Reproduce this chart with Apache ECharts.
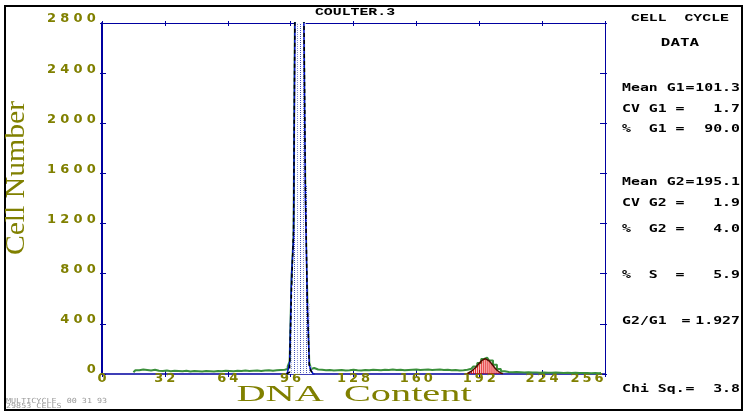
<!DOCTYPE html>
<html><head><meta charset="utf-8">
<script src="https://cdn.jsdelivr.net/npm/echarts@6/dist/echarts.min.js"></script>
<style>html,body{margin:0;padding:0;background:#fff}#c{width:748px;height:414px}</style>
</head><body><div id="c"></div>
<script>
// ---------- data ----------
const chartTitle = 'COULTER.3';
const xName = 'DNA  Content';
const yName = 'Cell Number';
const xMin = 0, xMax = 256, xStep = 32;
const yMin = 0, yMax = 2800, yStep = 400;

// measured histogram (green)
const dataChannels = [16,18,20,22,24,26,28,30,32,34,36,38,40,42,44,46,48,50,52,54,56,58,60,62,64,66,68,70,72,74,76,78,80,82,84,86,88,90,92,94,
  95,96,97,98,99,100,101,102,103,104,105,106,107,108,
  110,112,114,116,118,120,122,124,126,128,130,132,134,136,138,140,142,144,146,148,150,152,154,156,158,160,162,164,166,168,170,172,174,176,178,180,182,184,
  186,188,190,192,194,195,196,198,200,202,204,
  206,208,210,212,214,216,218,220,222,224,226,228,230,232,234,236,238,240,242,244,246,248,250,252,254];
const dataCounts = [14,30,36,32,28,34,26,24,28,22,26,24,22,26,20,24,22,20,24,22,20,24,22,26,24,22,26,24,28,24,26,28,24,28,30,26,30,32,34,40,
  60,100,780,1100,3600,5600,6200,5200,3300,1400,600,90,40,48,
  36,34,30,32,28,30,32,28,30,34,30,28,32,30,34,32,30,34,32,36,32,34,30,32,34,36,32,34,36,32,34,36,32,34,30,32,28,30,
  34,42,60,88,120,134,130,108,74,40,22,
  16,14,16,14,12,14,12,12,10,12,10,10,12,10,8,10,8,10,8,8,8,6,8,6,8];

// G1 component
const g1Channels = [94,95,96,97,98,99,100,101,102,103,104,105,106,107,108];
const g1Data = [0,20,90,800,1080,3600,5600,6200,5200,3300,1400,580,70,25,0];
const g1Fit  = [0,15,70,700,1150,3700,5500,6100,5200,3400,1500,560,60,20,0];

// G2 component
const g2Channels = [186,187,188,189,190,191,192,193,194,195,196,197,198,199,200,201,202,203,204];
const g2Fit = [4,12,22,34,50,68,86,104,116,122,118,106,88,68,48,30,18,8,2];

// side panel
const panelHeading = ['CELL  CYCLE', 'DATA'];
const panelLabels = ['Mean G1', 'CV G1', '%  G1', 'Mean G2', 'CV G2', '%  G2', '%  S', 'G2/G1', 'Chi Sq.'];
const panelValues = ['101.3', '1.7', '90.0', '195.1', '1.9', '4.0', '5.9', '1.927', '3.8'];
const footerLines = ['MULTICYCLE  00 31 93', '29853 CELLS'];

// ---------- layout / style ----------
const axisColor = '#0000a0';
const olive = '#808000';
const panelRowY = [88, 109, 129, 182, 203, 229, 275, 321, 389];
const panelSepX = [690, 680, 680, 690, 680, 680, 680, 686, 690];

const zip = (a, b) => a.map((v, i) => [v, b[i]]);
const tokens = (v, key) => String(v).split('').map(c => '{' + key + '|' + c + '}').join('');
const digitStyle = w => ({ width: w, align: 'center', fontFamily: 'DejaVu Sans', fontWeight: 'bold', fontSize: 13, color: olive, lineHeight: 8 });

function ax(kind, pos, extra) {
  const base = {
    type: 'value', position: pos,
    min: kind === 'x' ? xMin : yMin, max: kind === 'x' ? xMax : yMax,
    interval: kind === 'x' ? xStep : yStep,
    axisLine: { show: false, onZero: false },
    axisTick: { show: false },
    axisLabel: { show: false },
    splitLine: { show: false }
  };
  return Object.assign(base, extra);
}
const tick = (inside, len) => ({ show: true, inside: inside, length: len, lineStyle: { color: axisColor, width: 1 } });
const line = w => ({ show: true, onZero: false, lineStyle: { color: axisColor, width: w } });
const txt = (x, y, text, font, fill, align, extra) => Object.assign({
  type: 'text', x: x, y: y,
  style: { text: text, font: font, fill: fill, align: align, verticalAlign: 'middle', textAlign: align, textVerticalAlign: 'middle' }
}, extra);

const chart = echarts.init(document.getElementById('c'), null, { renderer: 'canvas' });

const panelFont = 'bold 11px "DejaVu Sans Mono"';
const panelGraphics = [
  txt(680, 18, panelHeading[0], 'bold 11px "Liberation Mono"', '#000', 'center', { scaleX: 1.35 }),
  txt(680, 43, panelHeading[1], panelFont, '#000', 'center', { scaleX: 1.45 })
];
panelLabels.forEach((lab, i) => {
  panelGraphics.push(txt(622, panelRowY[i], lab, panelFont, '#000', 'left', { scaleX: 1.35 }));
  panelGraphics.push(txt(panelSepX[i], panelRowY[i], '=', panelFont, '#000', 'center', { scaleX: 1.35 }));
  panelGraphics.push(txt(740, panelRowY[i], panelValues[i], panelFont, '#000', 'right', { scaleX: 1.35 }));
});

const option = {
  animation: false,
  backgroundColor: '#fff',
  grid: { left: 102, right: 143, top: 23, bottom: 40, containLabel: false },
  xAxis: [
    ax('x', 'bottom', {
      axisLine: line(1.5), axisTick: tick(true, 4),
      axisLabel: {
        show: true, margin: 1, showMinLabel: true, showMaxLabel: true, alignMaxLabel: 'right',
        formatter: v => tokens(v, 'd'), rich: { d: digitStyle(12) }
      }
    }),
    ax('x', 'bottom', { axisTick: tick(false, 3) }),
    ax('x', 'top', { axisLine: line(1), axisTick: tick(true, 3) }),
    ax('x', 'top', { axisTick: tick(false, 2) })
  ],
  yAxis: [
    ax('y', 'left', {
      axisLine: line(2), axisTick: tick(true, 4),
      axisLabel: {
        show: true, margin: 4, verticalAlign: 'bottom', showMinLabel: true, showMaxLabel: true,
        formatter: v => tokens(v, 'd'), rich: { d: digitStyle(13.3) }
      }
    }),
    ax('y', 'left', { axisTick: tick(false, 2) }),
    ax('y', 'right', { axisLine: line(1), axisTick: tick(true, 5) }),
    ax('y', 'right', { axisTick: tick(false, 2) })
  ],
  series: [
    {
      name: 'data', type: 'line', step: 'middle', xAxisIndex: 0, yAxisIndex: 0, z: 2,
      data: zip(dataChannels, dataCounts), showSymbol: false, clip: true,
      lineStyle: { color: '#3a8f3a', width: 2 }
    },
    {
      name: 'G1 fill', type: 'bar', xAxisIndex: 0, yAxisIndex: 0, z: 3, barWidth: 2, clip: true,
      data: zip(g1Channels, g1Fit),
      itemStyle: { color: '#ffffff', decal: { symbol: 'rect', symbolSize: 1, color: '#4050b8', backgroundColor: '#ffffff', dashArrayX: [1, 2], dashArrayY: [1, 1] } }
    },
    {
      name: 'G2 fill', type: 'bar', xAxisIndex: 1, yAxisIndex: 0, z: 3, barWidth: 1, clip: true,
      data: zip(g2Channels, g2Fit),
      itemStyle: { color: '#e00000' }
    },
    {
      name: 'G1 data', type: 'line', step: 'middle', xAxisIndex: 0, yAxisIndex: 0, z: 4,
      data: zip(g1Channels, g1Data), showSymbol: false, clip: true,
      lineStyle: { color: '#0010c8', width: 1.5 }
    },
    {
      name: 'G1 fit', type: 'line', step: 'middle', xAxisIndex: 0, yAxisIndex: 0, z: 5,
      data: zip(g1Channels, g1Fit), showSymbol: false, clip: true,
      lineStyle: { color: '#000000', width: 1.5, type: [4, 3] }
    },
    {
      name: 'G2 fit', type: 'line', xAxisIndex: 0, yAxisIndex: 0, z: 4,
      data: zip(g2Channels, g2Fit), showSymbol: false, clip: true,
      lineStyle: { color: '#4a1000', width: 1.5 }
    }
  ],
  graphic: [
    { type: 'rect', z: 0, shape: { x: 5, y: 6, width: 737, height: 404 }, style: { fill: 'none', stroke: '#000', lineWidth: 2 } },
    txt(355, 12, chartTitle, 'bold 11px "Liberation Mono"', '#000', 'center', { scaleX: 1.35 }),
    txt(354, 395, xName, '24px "Liberation Serif"', olive, 'center', { scaleX: 1.68 }),
    txt(17, 178, yName, '27px "Liberation Serif"', olive, 'center', { scaleX: 1.1, rotation: Math.PI / 2 }),
    txt(6, 401, footerLines[0], '7px "DejaVu Sans Mono"', '#9a9a9a', 'left', { scaleX: 1.2 }),
    txt(6, 406, footerLines[1], '7px "DejaVu Sans Mono"', '#9a9a9a', 'left', { scaleX: 1.2 })
  ].concat(panelGraphics)
};
chart.setOption(option);
</script>
</body></html>
